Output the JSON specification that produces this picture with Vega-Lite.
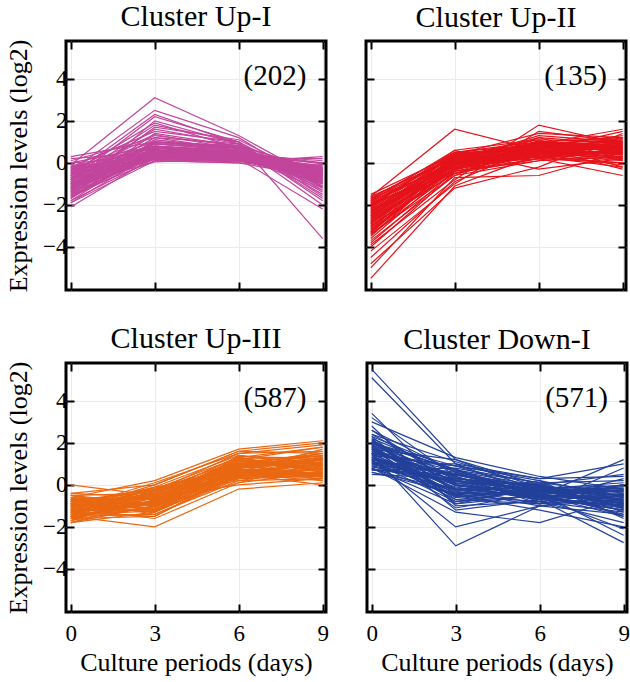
{
  "$schema": "https://vega.github.io/schema/vega-lite/v6.json",
  "background": "white",
  "padding": {"left": 4, "top": 0, "right": 0, "bottom": 2},
  "config": {
    "font": "Liberation Serif, Times New Roman, serif",
    "view": {"stroke": "black", "strokeWidth": 3},
    "axis": {"domain": false, "tickColor": "black", "tickWidth": 2, "tickSize": -8, "labelFont": "Liberation Serif, Times New Roman, serif", "labelFontSize": 23, "labelColor": "black", "titleFont": "Liberation Serif, Times New Roman, serif", "titleFontSize": 26, "titleFontWeight": "normal", "titleColor": "black", "gridColor": "#ebebeb", "gridWidth": 1},
    "axisX": {"labelPadding": 18, "titlePadding": 4},
    "axisY": {"labelPadding": 7, "titlePadding": 11},
    "title": {"font": "Liberation Serif, Times New Roman, serif", "fontSize": 30, "fontWeight": "normal", "color": "black", "baseline": "alphabetic", "offset": 7},
    "line": {"strokeWidth": 1.2}
  },
  "data": {"values": [
    {"c":"Up-I","g":1,"0":-2.1,"3":0.3,"6":0.2,"9":-0.6},
    {"c":"Up-I","g":2,"0":-1.9,"3":0.5,"6":0.4,"9":-0.9},
    {"c":"Up-I","g":3,"0":-1.8,"3":0.2,"6":0.1,"9":-0.3},
    {"c":"Up-I","g":4,"0":-1.7,"3":0.8,"6":0.5,"9":-1.2},
    {"c":"Up-I","g":5,"0":-1.6,"3":0.4,"6":0.3,"9":-0.5},
    {"c":"Up-I","g":6,"0":-1.5,"3":1.0,"6":0.6,"9":-0.8},
    {"c":"Up-I","g":7,"0":-1.5,"3":0.1,"6":0.0,"9":-0.2},
    {"c":"Up-I","g":8,"0":-1.4,"3":0.6,"6":0.4,"9":-1.0},
    {"c":"Up-I","g":9,"0":-1.3,"3":1.4,"6":0.8,"9":-1.5},
    {"c":"Up-I","g":10,"0":-1.3,"3":0.3,"6":0.2,"9":-0.4},
    {"c":"Up-I","g":11,"0":-1.2,"3":0.9,"6":0.7,"9":-0.7},
    {"c":"Up-I","g":12,"0":-1.2,"3":0.2,"6":0.1,"9":-0.1},
    {"c":"Up-I","g":13,"0":-1.1,"3":0.5,"6":0.5,"9":-0.9},
    {"c":"Up-I","g":14,"0":-1.1,"3":1.2,"6":0.9,"9":-1.3},
    {"c":"Up-I","g":15,"0":-1.0,"3":0.7,"6":0.3,"9":-0.6},
    {"c":"Up-I","g":16,"0":-1.0,"3":0.3,"6":0.4,"9":0.1},
    {"c":"Up-I","g":17,"0":-0.9,"3":1.6,"6":0.9,"9":-1.8},
    {"c":"Up-I","g":18,"0":-0.9,"3":0.4,"6":0.2,"9":-0.3},
    {"c":"Up-I","g":19,"0":-0.8,"3":0.8,"6":0.6,"9":-0.8},
    {"c":"Up-I","g":20,"0":-0.8,"3":2.2,"6":1.0,"9":-1.1},
    {"c":"Up-I","g":21,"0":-0.7,"3":0.2,"6":0.3,"9":-0.5},
    {"c":"Up-I","g":22,"0":-0.7,"3":1.1,"6":0.7,"9":-1.0},
    {"c":"Up-I","g":23,"0":-0.6,"3":0.5,"6":0.5,"9":0.0},
    {"c":"Up-I","g":24,"0":-0.6,"3":1.3,"6":0.8,"9":-2.0},
    {"c":"Up-I","g":25,"0":-0.5,"3":0.3,"6":0.1,"9":-0.4},
    {"c":"Up-I","g":26,"0":-0.5,"3":0.9,"6":0.6,"9":-0.7},
    {"c":"Up-I","g":27,"0":-0.4,"3":2.5,"6":1.2,"9":-1.2},
    {"c":"Up-I","g":28,"0":-0.4,"3":0.6,"6":0.3,"9":-0.2},
    {"c":"Up-I","g":29,"0":-0.3,"3":1.0,"6":0.7,"9":-0.9},
    {"c":"Up-I","g":30,"0":-0.3,"3":0.4,"6":0.2,"9":0.2},
    {"c":"Up-I","g":31,"0":-0.2,"3":1.5,"6":1.0,"9":-1.6},
    {"c":"Up-I","g":32,"0":-0.2,"3":0.7,"6":0.4,"9":-0.6},
    {"c":"Up-I","g":33,"0":-0.1,"3":3.1,"6":1.3,"9":-0.9},
    {"c":"Up-I","g":34,"0":-0.8,"3":1.8,"6":1.0,"9":-3.6},
    {"c":"Up-I","g":35,"0":0.0,"3":0.8,"6":0.5,"9":-0.3},
    {"c":"Up-I","g":36,"0":0.1,"3":1.2,"6":0.6,"9":-0.5},
    {"c":"Up-I","g":37,"0":0.2,"3":0.5,"6":0.3,"9":0.0},
    {"c":"Up-I","g":38,"0":0.3,"3":1.0,"6":0.8,"9":-0.4},
    {"c":"Up-I","g":39,"0":-1.6,"3":0.6,"6":0.2,"9":-2.2},
    {"c":"Up-I","g":40,"0":-1.4,"3":2.0,"6":0.9,"9":-1.4},
    {"c":"Up-I","g":41,"0":-1.9,"3":0.1,"6":0.0,"9":-0.7},
    {"c":"Up-I","g":42,"0":-0.9,"3":0.15,"6":0.05,"9":0.3},
    {"c":"Up-I","g":43,"0":-1.2,"3":1.7,"6":1.1,"9":-0.9},
    {"c":"Up-I","g":44,"0":-0.6,"3":2.3,"6":0.9,"9":-1.7},
    {"c":"Up-I","g":45,"0":-1.7,"3":1.1,"6":0.6,"9":-1.1},
    {"c":"Up-I","g":46,"0":-0.3,"3":0.15,"6":0.1,"9":-0.8},
    {"c":"Up-I","g":47,"0":-1.0,"3":0.45,"6":0.35,"9":-1.3},
    {"c":"Up-I","g":48,"0":-0.5,"3":1.9,"6":0.7,"9":-0.5},
    {"c":"Up-I","g":49,"0":-1.4,"3":0.25,"6":0.45,"9":-0.05},
    {"c":"Up-I","g":50,"0":-0.2,"3":0.35,"6":0.25,"9":-1.0},
    {"c":"Up-I","g":51,"0":-1.8,"3":0.75,"6":0.55,"9":-0.35},
    {"c":"Up-I","g":52,"0":-0.7,"3":0.65,"6":0.15,"9":-0.15},
    {"c":"Up-I","g":53,"0":-1.3,"3":0.95,"6":0.85,"9":-0.45},
    {"c":"Up-I","g":54,"0":-0.4,"3":1.35,"6":0.65,"9":-1.15},
    {"c":"Up-I","g":55,"0":0.0,"3":0.25,"6":0.45,"9":-0.65},
    {"c":"Up-I","g":56,"0":-1.1,"3":0.05,"6":0.2,"9":-0.25},
    {"c":"Up-I","g":57,"0":-1.45,"3":0.35,"6":0.3,"9":-0.55},
    {"c":"Up-I","g":58,"0":-1.25,"3":0.55,"6":0.25,"9":-0.35},
    {"c":"Up-I","g":59,"0":-1.05,"3":0.25,"6":0.15,"9":-0.75},
    {"c":"Up-I","g":60,"0":-0.85,"3":0.6,"6":0.45,"9":-0.45},
    {"c":"Up-I","g":61,"0":-0.65,"3":0.4,"6":0.35,"9":-0.85},
    {"c":"Up-I","g":62,"0":-0.45,"3":0.8,"6":0.55,"9":-0.25},
    {"c":"Up-I","g":63,"0":-0.25,"3":0.3,"6":0.2,"9":-0.55},
    {"c":"Up-I","g":64,"0":-1.35,"3":0.7,"6":0.5,"9":-0.65},
    {"c":"Up-I","g":65,"0":-1.15,"3":0.45,"6":0.4,"9":-0.15},
    {"c":"Up-I","g":66,"0":-0.95,"3":0.9,"6":0.6,"9":-0.95},
    {"c":"Up-I","g":67,"0":-0.75,"3":0.35,"6":0.25,"9":-0.3},
    {"c":"Up-I","g":68,"0":-0.55,"3":0.55,"6":0.45,"9":-0.7},
    {"c":"Up-I","g":69,"0":-0.35,"3":0.2,"6":0.3,"9":-0.4},
    {"c":"Up-I","g":70,"0":-1.55,"3":0.5,"6":0.35,"9":-0.8},
    {"c":"Up-I","g":71,"0":-1.65,"3":0.3,"6":0.2,"9":-0.45},
    {"c":"Up-I","g":72,"0":-0.15,"3":0.6,"6":0.5,"9":-0.35},
    {"c":"Up-I","g":73,"0":-1.0,"3":1.0,"6":0.75,"9":-0.6},
    {"c":"Up-I","g":74,"0":-0.6,"3":0.75,"6":0.4,"9":-0.55},
    {"c":"Up-I","g":75,"0":-1.2,"3":0.4,"6":0.6,"9":-0.3},
    {"c":"Up-I","g":76,"0":-0.8,"3":0.3,"6":0.1,"9":-0.6},

    {"c":"Up-II","g":101,"0":-1.5,"3":0.4,"6":0.8,"9":0.9},
    {"c":"Up-II","g":102,"0":-1.6,"3":0.2,"6":0.6,"9":0.5},
    {"c":"Up-II","g":103,"0":-1.7,"3":0.5,"6":1.0,"9":1.2},
    {"c":"Up-II","g":104,"0":-1.8,"3":0.0,"6":0.5,"9":0.3},
    {"c":"Up-II","g":105,"0":-1.9,"3":0.3,"6":0.9,"9":0.7},
    {"c":"Up-II","g":106,"0":-2.0,"3":-0.2,"6":0.4,"9":0.1},
    {"c":"Up-II","g":107,"0":-2.1,"3":0.6,"6":1.1,"9":1.0},
    {"c":"Up-II","g":108,"0":-2.2,"3":0.1,"6":0.7,"9":0.6},
    {"c":"Up-II","g":109,"0":-2.3,"3":-0.3,"6":0.3,"9":-0.2},
    {"c":"Up-II","g":110,"0":-2.4,"3":0.4,"6":0.8,"9":1.3},
    {"c":"Up-II","g":111,"0":-2.5,"3":0.0,"6":0.6,"9":0.4},
    {"c":"Up-II","g":112,"0":-2.6,"3":-0.4,"6":0.2,"9":0.0},
    {"c":"Up-II","g":113,"0":-2.7,"3":0.2,"6":1.0,"9":0.8},
    {"c":"Up-II","g":114,"0":-2.8,"3":-0.1,"6":0.5,"9":0.2},
    {"c":"Up-II","g":115,"0":-2.9,"3":0.3,"6":0.9,"9":1.1},
    {"c":"Up-II","g":116,"0":-3.0,"3":-0.5,"6":0.4,"9":0.5},
    {"c":"Up-II","g":117,"0":-3.1,"3":0.1,"6":0.7,"9":-0.3},
    {"c":"Up-II","g":118,"0":-3.2,"3":-0.2,"6":0.3,"9":0.6},
    {"c":"Up-II","g":119,"0":-3.3,"3":0.2,"6":1.2,"9":0.9},
    {"c":"Up-II","g":120,"0":-3.4,"3":-0.6,"6":0.1,"9":0.3},
    {"c":"Up-II","g":121,"0":-3.5,"3":0.0,"6":0.8,"9":0.7},
    {"c":"Up-II","g":122,"0":-1.6,"3":1.6,"6":0.6,"9":1.5},
    {"c":"Up-II","g":123,"0":-3.9,"3":-0.8,"6":1.8,"9":0.9},
    {"c":"Up-II","g":124,"0":-4.2,"3":-1.0,"6":1.5,"9":1.0},
    {"c":"Up-II","g":125,"0":-4.5,"3":-0.9,"6":0.8,"9":0.6},
    {"c":"Up-II","g":126,"0":-4.8,"3":-1.2,"6":-0.2,"9":1.4},
    {"c":"Up-II","g":127,"0":-5.0,"3":-0.7,"6":-0.6,"9":0.5},
    {"c":"Up-II","g":128,"0":-5.5,"3":-1.1,"6":0.4,"9":0.8},
    {"c":"Up-II","g":129,"0":-3.7,"3":-0.6,"6":0.9,"9":1.6},
    {"c":"Up-II","g":130,"0":-1.8,"3":0.6,"6":-0.3,"9":0.2},
    {"c":"Up-II","g":131,"0":-2.0,"3":0.4,"6":1.4,"9":1.2},
    {"c":"Up-II","g":132,"0":-2.2,"3":-0.1,"6":0.2,"9":-0.6},
    {"c":"Up-II","g":133,"0":-2.4,"3":0.5,"6":0.6,"9":0.3},
    {"c":"Up-II","g":134,"0":-2.6,"3":0.1,"6":1.3,"9":1.0},
    {"c":"Up-II","g":135,"0":-2.8,"3":0.3,"6":0.4,"9":-0.1},
    {"c":"Up-II","g":136,"0":-3.0,"3":-0.3,"6":1.0,"9":0.8},
    {"c":"Up-II","g":137,"0":-3.2,"3":0.4,"6":0.7,"9":0.4},
    {"c":"Up-II","g":138,"0":-3.4,"3":-0.4,"6":0.5,"9":1.2},
    {"c":"Up-II","g":139,"0":-1.7,"3":-0.1,"6":0.3,"9":0.0},
    {"c":"Up-II","g":140,"0":-2.3,"3":0.2,"6":0.9,"9":0.7},
    {"c":"Up-II","g":141,"0":-2.9,"3":0.1,"6":0.5,"9":0.5},
    {"c":"Up-II","g":142,"0":-1.9,"3":-0.5,"6":0.2,"9":0.6},
    {"c":"Up-II","g":143,"0":-2.5,"3":0.3,"6":1.1,"9":0.1},
    {"c":"Up-II","g":144,"0":-3.3,"3":-0.1,"6":0.8,"9":1.0},
    {"c":"Up-II","g":145,"0":-2.1,"3":0.0,"6":0.3,"9":0.9},
    {"c":"Up-II","g":146,"0":-2.7,"3":-0.3,"6":1.2,"9":0.2},
    {"c":"Up-II","g":147,"0":-3.6,"3":-0.2,"6":0.6,"9":0.4},
    {"c":"Up-II","g":148,"0":-2.0,"3":0.5,"6":0.9,"9":-0.2},
    {"c":"Up-II","g":149,"0":-4.0,"3":-0.5,"6":0.6,"9":0.7},
    {"c":"Up-II","g":150,"0":-3.8,"3":-0.4,"6":0.1,"9":1.1},
    {"c":"Up-II","g":151,"0":-1.75,"3":0.25,"6":0.75,"9":0.8},
    {"c":"Up-II","g":152,"0":-1.95,"3":0.1,"6":0.55,"9":0.45},
    {"c":"Up-II","g":153,"0":-2.15,"3":0.35,"6":0.95,"9":0.65},
    {"c":"Up-II","g":154,"0":-2.35,"3":-0.05,"6":0.45,"9":0.95},
    {"c":"Up-II","g":155,"0":-2.55,"3":0.15,"6":0.85,"9":0.35},
    {"c":"Up-II","g":156,"0":-2.75,"3":-0.25,"6":0.65,"9":0.75},
    {"c":"Up-II","g":157,"0":-2.95,"3":0.05,"6":0.35,"9":0.55},
    {"c":"Up-II","g":158,"0":-3.15,"3":-0.35,"6":0.75,"9":0.85},
    {"c":"Up-II","g":159,"0":-3.35,"3":0.15,"6":0.55,"9":0.25},
    {"c":"Up-II","g":160,"0":-2.05,"3":-0.15,"6":0.95,"9":1.05},
    {"c":"Up-II","g":161,"0":-2.45,"3":0.25,"6":0.25,"9":0.65},
    {"c":"Up-II","g":162,"0":-2.85,"3":-0.05,"6":1.05,"9":0.45},
    {"c":"Up-II","g":163,"0":-3.05,"3":0.35,"6":0.65,"9":1.15},
    {"c":"Up-II","g":164,"0":-2.25,"3":-0.3,"6":0.5,"9":0.15},
    {"c":"Up-II","g":165,"0":-2.65,"3":0.45,"6":0.75,"9":0.6},
    {"c":"Up-II","g":166,"0":-1.85,"3":0.0,"6":0.4,"9":0.85},
    {"c":"Up-II","g":167,"0":-3.25,"3":-0.2,"6":0.9,"9":0.5},
    {"c":"Up-II","g":168,"0":-2.5,"3":0.1,"6":0.6,"9":1.0},
    {"c":"Up-II","g":169,"0":-1.65,"3":0.3,"6":0.5,"9":0.4},
    {"c":"Up-II","g":170,"0":-3.45,"3":0.05,"6":0.7,"9":0.7},

    {"c":"Up-III","g":201,"0":-1.8,"3":-1.3,"6":0.4,"9":0.8},
    {"c":"Up-III","g":202,"0":-1.7,"3":-1.0,"6":0.8,"9":1.2},
    {"c":"Up-III","g":203,"0":-1.6,"3":-0.6,"6":1.2,"9":0.6},
    {"c":"Up-III","g":204,"0":-1.5,"3":-1.4,"6":0.2,"9":0.3},
    {"c":"Up-III","g":205,"0":-1.4,"3":-0.3,"6":1.5,"9":1.6},
    {"c":"Up-III","g":206,"0":-1.3,"3":-0.9,"6":0.6,"9":1.0},
    {"c":"Up-III","g":207,"0":-1.2,"3":-1.2,"6":0.9,"9":0.5},
    {"c":"Up-III","g":208,"0":-1.1,"3":-0.5,"6":0.3,"9":1.4},
    {"c":"Up-III","g":209,"0":-1.0,"3":-0.8,"6":1.1,"9":0.9},
    {"c":"Up-III","g":210,"0":-0.9,"3":-1.1,"6":0.5,"9":0.2},
    {"c":"Up-III","g":211,"0":-0.8,"3":-0.2,"6":1.3,"9":1.8},
    {"c":"Up-III","g":212,"0":-0.7,"3":-0.7,"6":0.7,"9":0.7},
    {"c":"Up-III","g":213,"0":-0.6,"3":-1.0,"6":0.1,"9":1.1},
    {"c":"Up-III","g":214,"0":-0.5,"3":-0.4,"6":1.0,"9":0.4},
    {"c":"Up-III","g":215,"0":-0.4,"3":0.0,"6":1.6,"9":2.0},
    {"c":"Up-III","g":216,"0":-1.8,"3":-0.7,"6":0.9,"9":1.3},
    {"c":"Up-III","g":217,"0":-1.6,"3":-1.5,"6":0.5,"9":0.6},
    {"c":"Up-III","g":218,"0":-1.4,"3":-0.1,"6":1.4,"9":0.9},
    {"c":"Up-III","g":219,"0":-1.2,"3":-0.6,"6":0.0,"9":0.3},
    {"c":"Up-III","g":220,"0":-1.0,"3":-1.3,"6":0.8,"9":1.5},
    {"c":"Up-III","g":221,"0":-0.8,"3":-0.9,"6":1.2,"9":1.0},
    {"c":"Up-III","g":222,"0":-0.6,"3":0.2,"6":1.7,"9":2.1},
    {"c":"Up-III","g":223,"0":-1.5,"3":-2.0,"6":-0.2,"9":0.1},
    {"c":"Up-III","g":224,"0":0.0,"3":-0.5,"6":0.4,"9":0.5},
    {"c":"Up-III","g":225,"0":-1.7,"3":-0.3,"6":0.6,"9":1.7},
    {"c":"Up-III","g":226,"0":-1.3,"3":-0.8,"6":1.0,"9":0.2},
    {"c":"Up-III","g":227,"0":-0.9,"3":-0.4,"6":0.2,"9":0.8},
    {"c":"Up-III","g":228,"0":-0.5,"3":-1.2,"6":0.7,"9":1.2},
    {"c":"Up-III","g":229,"0":-1.1,"3":0.1,"6":1.5,"9":1.9},
    {"c":"Up-III","g":230,"0":-0.7,"3":-1.4,"6":0.3,"9":0.4},
    {"c":"Up-III","g":231,"0":-1.5,"3":-0.9,"6":1.1,"9":1.4},
    {"c":"Up-III","g":232,"0":-1.3,"3":-0.2,"6":0.5,"9":0.0},
    {"c":"Up-III","g":233,"0":-0.9,"3":-1.0,"6":1.3,"9":0.7},
    {"c":"Up-III","g":234,"0":-1.7,"3":-0.5,"6":0.8,"9":1.1},
    {"c":"Up-III","g":235,"0":-1.1,"3":-1.6,"6":0.1,"9":0.6},
    {"c":"Up-III","g":236,"0":-0.6,"3":-0.7,"6":0.9,"9":1.6},
    {"c":"Up-III","g":237,"0":-1.4,"3":-1.1,"6":1.4,"9":1.0},
    {"c":"Up-III","g":238,"0":-1.0,"3":-0.1,"6":0.6,"9":0.3},
    {"c":"Up-III","g":239,"0":-1.6,"3":-0.8,"6":0.4,"9":1.3},
    {"c":"Up-III","g":240,"0":-0.8,"3":-0.3,"6":1.0,"9":0.9},
    {"c":"Up-III","g":241,"0":-1.2,"3":0.0,"6":1.6,"9":1.5},
    {"c":"Up-III","g":242,"0":-0.7,"3":-1.2,"6":0.3,"9":0.8},
    {"c":"Up-III","g":243,"0":-1.8,"3":-1.0,"6":0.7,"9":0.4},
    {"c":"Up-III","g":244,"0":-1.0,"3":-0.6,"6":1.2,"9":1.8},
    {"c":"Up-III","g":245,"0":-1.3,"3":-1.5,"6":0.6,"9":0.5},
    {"c":"Up-III","g":246,"0":-0.5,"3":-0.9,"6":0.8,"9":1.2},
    {"c":"Up-III","g":247,"0":-1.5,"3":-0.4,"6":1.3,"9":0.6},
    {"c":"Up-III","g":248,"0":-0.9,"3":-1.3,"6":0.5,"9":1.0},
    {"c":"Up-III","g":249,"0":-1.2,"3":-0.2,"6":0.9,"9":1.4},
    {"c":"Up-III","g":250,"0":-0.4,"3":-0.6,"6":1.1,"9":0.7},
    {"c":"Up-III","g":251,"0":-1.55,"3":-1.05,"6":0.65,"9":0.95},
    {"c":"Up-III","g":252,"0":-1.35,"3":-0.75,"6":0.85,"9":1.15},
    {"c":"Up-III","g":253,"0":-1.15,"3":-0.45,"6":1.05,"9":0.75},
    {"c":"Up-III","g":254,"0":-0.95,"3":-1.15,"6":0.45,"9":0.55},
    {"c":"Up-III","g":255,"0":-0.75,"3":-0.55,"6":1.25,"9":1.35},
    {"c":"Up-III","g":256,"0":-1.45,"3":-0.35,"6":0.75,"9":0.65},
    {"c":"Up-III","g":257,"0":-1.25,"3":-0.95,"6":0.55,"9":1.25},
    {"c":"Up-III","g":258,"0":-1.05,"3":-0.25,"6":1.15,"9":0.85},
    {"c":"Up-III","g":259,"0":-0.85,"3":-0.85,"6":0.35,"9":0.45},
    {"c":"Up-III","g":260,"0":-0.65,"3":-0.65,"6":0.95,"9":1.05},
    {"c":"Up-III","g":261,"0":-1.6,"3":-0.6,"6":1.0,"9":1.5},
    {"c":"Up-III","g":262,"0":-1.4,"3":-1.25,"6":0.4,"9":0.9},
    {"c":"Up-III","g":263,"0":-1.2,"3":-0.85,"6":0.75,"9":0.35},
    {"c":"Up-III","g":264,"0":-1.0,"3":-0.45,"6":1.35,"9":1.25},
    {"c":"Up-III","g":265,"0":-0.8,"3":-1.0,"6":0.6,"9":0.6},
    {"c":"Up-III","g":266,"0":-1.3,"3":-0.5,"6":0.5,"9":1.1},
    {"c":"Up-III","g":267,"0":-1.1,"3":-1.2,"6":1.2,"9":0.8},
    {"c":"Up-III","g":268,"0":-0.9,"3":-0.15,"6":0.85,"9":1.3},
    {"c":"Up-III","g":269,"0":-0.7,"3":-0.95,"6":0.7,"9":0.5},
    {"c":"Up-III","g":270,"0":-1.5,"3":-0.75,"6":0.95,"9":1.2},

    {"c":"Down-I","g":301,"0":0.5,"3":0.3,"6":-0.3,"9":-0.5},
    {"c":"Down-I","g":302,"0":0.6,"3":-0.2,"6":-0.6,"9":-1.0},
    {"c":"Down-I","g":303,"0":0.7,"3":0.8,"6":0.1,"9":0.2},
    {"c":"Down-I","g":304,"0":0.8,"3":-0.5,"6":-0.8,"9":-1.3},
    {"c":"Down-I","g":305,"0":0.9,"3":0.2,"6":-0.2,"9":-0.3},
    {"c":"Down-I","g":306,"0":1.0,"3":1.0,"6":0.3,"9":0.4},
    {"c":"Down-I","g":307,"0":1.1,"3":-0.8,"6":-0.5,"9":-0.8},
    {"c":"Down-I","g":308,"0":1.2,"3":0.5,"6":-0.1,"9":-1.1},
    {"c":"Down-I","g":309,"0":1.3,"3":-0.1,"6":-0.7,"9":0.0},
    {"c":"Down-I","g":310,"0":1.4,"3":0.9,"6":0.2,"9":-0.6},
    {"c":"Down-I","g":311,"0":1.5,"3":-0.4,"6":-0.4,"9":-1.4},
    {"c":"Down-I","g":312,"0":1.6,"3":0.4,"6":-0.9,"9":-0.2},
    {"c":"Down-I","g":313,"0":1.7,"3":1.2,"6":0.0,"9":0.5},
    {"c":"Down-I","g":314,"0":1.8,"3":-0.6,"6":-0.3,"9":-0.9},
    {"c":"Down-I","g":315,"0":1.9,"3":0.1,"6":-0.6,"9":-1.2},
    {"c":"Down-I","g":316,"0":2.0,"3":0.7,"6":0.1,"9":-0.4},
    {"c":"Down-I","g":317,"0":2.1,"3":-0.3,"6":-1.0,"9":-0.7},
    {"c":"Down-I","g":318,"0":2.2,"3":0.6,"6":-0.2,"9":0.1},
    {"c":"Down-I","g":319,"0":2.3,"3":-0.9,"6":-0.5,"9":-1.5},
    {"c":"Down-I","g":320,"0":2.4,"3":0.3,"6":-0.1,"9":-0.8},
    {"c":"Down-I","g":321,"0":5.5,"3":1.2,"6":-0.3,"9":-0.9},
    {"c":"Down-I","g":322,"0":5.1,"3":1.0,"6":-0.5,"9":-1.2},
    {"c":"Down-I","g":323,"0":3.4,"3":-0.5,"6":-1.2,"9":-2.0},
    {"c":"Down-I","g":324,"0":3.0,"3":1.3,"6":0.4,"9":-0.2},
    {"c":"Down-I","g":325,"0":2.8,"3":-1.0,"6":-0.8,"9":-1.8},
    {"c":"Down-I","g":326,"0":2.6,"3":0.0,"6":-0.5,"9":1.2},
    {"c":"Down-I","g":327,"0":1.5,"3":-2.9,"6":-1.0,"9":-0.5},
    {"c":"Down-I","g":328,"0":1.2,"3":-2.0,"6":-1.0,"9":-1.4},
    {"c":"Down-I","g":329,"0":0.8,"3":-1.3,"6":-1.8,"9":-0.6},
    {"c":"Down-I","g":330,"0":2.2,"3":-1.2,"6":-0.7,"9":-2.75},
    {"c":"Down-I","g":331,"0":1.8,"3":-1.1,"6":-0.4,"9":-2.4},
    {"c":"Down-I","g":332,"0":2.0,"3":0.9,"6":0.3,"9":1.0},
    {"c":"Down-I","g":333,"0":1.3,"3":-0.7,"6":-0.9,"9":0.8},
    {"c":"Down-I","g":334,"0":0.6,"3":-0.4,"6":0.2,"9":-1.6},
    {"c":"Down-I","g":335,"0":1.1,"3":0.6,"6":-0.6,"9":-2.1},
    {"c":"Down-I","g":336,"0":2.4,"3":1.1,"6":-0.1,"9":-0.5},
    {"c":"Down-I","g":337,"0":0.9,"3":-0.2,"6":0.0,"9":-1.1},
    {"c":"Down-I","g":338,"0":1.6,"3":0.2,"6":-0.7,"9":0.3},
    {"c":"Down-I","g":339,"0":2.1,"3":-0.7,"6":-0.3,"9":-0.1},
    {"c":"Down-I","g":340,"0":0.7,"3":0.5,"6":-0.5,"9":-0.7},
    {"c":"Down-I","g":341,"0":1.4,"3":-0.5,"6":0.1,"9":-1.3},
    {"c":"Down-I","g":342,"0":1.9,"3":0.4,"6":-0.8,"9":-0.4},
    {"c":"Down-I","g":343,"0":1.7,"3":-0.8,"6":-0.2,"9":-1.0},
    {"c":"Down-I","g":344,"0":1.2,"3":0.0,"6":-0.4,"9":0.0},
    {"c":"Down-I","g":345,"0":2.3,"3":0.7,"6":-0.6,"9":-1.2},
    {"c":"Down-I","g":346,"0":0.8,"3":-0.9,"6":-0.1,"9":-0.2},
    {"c":"Down-I","g":347,"0":1.5,"3":0.9,"6":-0.3,"9":-0.9},
    {"c":"Down-I","g":348,"0":2.0,"3":-0.2,"6":-0.9,"9":-0.6},
    {"c":"Down-I","g":349,"0":1.0,"3":0.3,"6":0.0,"9":-1.5},
    {"c":"Down-I","g":350,"0":2.6,"3":0.6,"6":-0.2,"9":-0.3},
    {"c":"Down-I","g":351,"0":3.2,"3":0.4,"6":-0.6,"9":-1.1},
    {"c":"Down-I","g":352,"0":0.85,"3":0.15,"6":-0.25,"9":-0.45},
    {"c":"Down-I","g":353,"0":1.05,"3":-0.35,"6":-0.45,"9":-0.85},
    {"c":"Down-I","g":354,"0":1.25,"3":0.45,"6":-0.15,"9":-0.25},
    {"c":"Down-I","g":355,"0":1.45,"3":-0.15,"6":-0.55,"9":-1.05},
    {"c":"Down-I","g":356,"0":1.65,"3":0.65,"6":-0.05,"9":-0.55},
    {"c":"Down-I","g":357,"0":1.85,"3":-0.45,"6":-0.35,"9":-0.15},
    {"c":"Down-I","g":358,"0":2.05,"3":0.25,"6":-0.65,"9":-0.95},
    {"c":"Down-I","g":359,"0":0.95,"3":0.55,"6":-0.45,"9":-0.65},
    {"c":"Down-I","g":360,"0":1.15,"3":-0.55,"6":-0.25,"9":-0.35},
    {"c":"Down-I","g":361,"0":1.35,"3":0.05,"6":0.05,"9":-1.15},
    {"c":"Down-I","g":362,"0":1.55,"3":0.35,"6":-0.35,"9":-0.75},
    {"c":"Down-I","g":363,"0":1.75,"3":-0.25,"6":-0.15,"9":-0.05},
    {"c":"Down-I","g":364,"0":1.95,"3":0.75,"6":-0.55,"9":-0.45},
    {"c":"Down-I","g":365,"0":2.15,"3":-0.05,"6":-0.45,"9":-0.85},
    {"c":"Down-I","g":366,"0":1.1,"3":0.1,"6":-0.6,"9":-0.55},
    {"c":"Down-I","g":367,"0":1.3,"3":-0.3,"6":-0.05,"9":-0.7},
    {"c":"Down-I","g":368,"0":1.5,"3":0.5,"6":-0.4,"9":-0.3},
    {"c":"Down-I","g":369,"0":1.7,"3":0.0,"6":-0.7,"9":-1.0},
    {"c":"Down-I","g":370,"0":1.9,"3":-0.6,"6":-0.2,"9":-0.6},
    {"c":"Down-I","g":371,"0":0.75,"3":0.2,"6":-0.3,"9":-0.9}
  ]},
  "spacing": 28,
  "vconcat": [
    {
      "spacing": 34,
      "hconcat": [
        {
          "width": 260, "height": 249,
          "title": "Cluster Up-I",
          "layer": [
            {
              "transform": [{"filter": "datum.c === 'Up-I'"}, {"fold": ["0", "3", "6", "9"], "as": ["day", "v"]}],
              "mark": {"type": "line", "color": "#c2459c"},
              "encoding": {
                "x": {"field": "day", "type": "quantitative", "scale": {"domain": [-0.17, 9.12], "nice": false, "zero": false}, "axis": {"orient": "bottom", "values": [0, 3, 6, 9], "labels": false, "title": null, "grid": true}},
                "y": {"field": "v", "type": "quantitative", "scale": {"domain": [-6.05, 5.8], "nice": false, "zero": false}, "axis": {"orient": "left", "values": [-4, -2, 0, 2, 4], "title": "Expression levels (log2)", "grid": true}},
                "detail": {"field": "g"}
              }
            },
            {
              "data": {"values": [{"n": "(202)"}]},
              "mark": {"type": "text", "align": "right", "baseline": "middle", "fontSize": 29, "color": "black"},
              "encoding": {
                "x": {"datum": 8.42, "type": "quantitative", "scale": {"domain": [-0.17, 9.12], "nice": false, "zero": false}, "axis": {"orient": "top", "values": [0, 3, 6, 9], "labels": false, "title": null, "grid": false}},
                "y": {"datum": 4.15, "type": "quantitative", "scale": {"domain": [-6.05, 5.8], "nice": false, "zero": false}, "axis": {"orient": "right", "values": [-4, -2, 0, 2, 4], "labels": false, "title": null, "grid": false}},
                "text": {"field": "n"}
              }
            }
          ],
          "resolve": {"axis": {"x": "independent", "y": "independent"}}
        },
        {
          "width": 260, "height": 249,
          "title": "Cluster Up-II",
          "layer": [
            {
              "transform": [{"filter": "datum.c === 'Up-II'"}, {"fold": ["0", "3", "6", "9"], "as": ["day", "v"]}],
              "mark": {"type": "line", "color": "#e5131b"},
              "encoding": {
                "x": {"field": "day", "type": "quantitative", "scale": {"domain": [-0.17, 9.12], "nice": false, "zero": false}, "axis": {"orient": "bottom", "values": [0, 3, 6, 9], "labels": false, "title": null, "grid": true}},
                "y": {"field": "v", "type": "quantitative", "scale": {"domain": [-6.05, 5.8], "nice": false, "zero": false}, "axis": {"orient": "left", "values": [-4, -2, 0, 2, 4], "labels": false, "title": null, "grid": true}},
                "detail": {"field": "g"}
              }
            },
            {
              "data": {"values": [{"n": "(135)"}]},
              "mark": {"type": "text", "align": "right", "baseline": "middle", "fontSize": 29, "color": "black"},
              "encoding": {
                "x": {"datum": 8.44, "type": "quantitative", "scale": {"domain": [-0.17, 9.12], "nice": false, "zero": false}, "axis": {"orient": "top", "values": [0, 3, 6, 9], "labels": false, "title": null, "grid": false}},
                "y": {"datum": 4.15, "type": "quantitative", "scale": {"domain": [-6.05, 5.8], "nice": false, "zero": false}, "axis": {"orient": "right", "values": [-4, -2, 0, 2, 4], "labels": false, "title": null, "grid": false}},
                "text": {"field": "n"}
              }
            }
          ],
          "resolve": {"axis": {"x": "independent", "y": "independent"}}
        }
      ]
    },
    {
      "spacing": 34,
      "hconcat": [
        {
          "width": 260, "height": 249,
          "title": "Cluster Up-III",
          "layer": [
            {
              "transform": [{"filter": "datum.c === 'Up-III'"}, {"fold": ["0", "3", "6", "9"], "as": ["day", "v"]}],
              "mark": {"type": "line", "color": "#ea6812"},
              "encoding": {
                "x": {"field": "day", "type": "quantitative", "scale": {"domain": [-0.17, 9.12], "nice": false, "zero": false}, "axis": {"orient": "bottom", "values": [0, 3, 6, 9], "title": "Culture periods (days)", "grid": true}},
                "y": {"field": "v", "type": "quantitative", "scale": {"domain": [-6.05, 5.8], "nice": false, "zero": false}, "axis": {"orient": "left", "values": [-4, -2, 0, 2, 4], "title": "Expression levels (log2)", "grid": true}},
                "detail": {"field": "g"}
              }
            },
            {
              "data": {"values": [{"n": "(587)"}]},
              "mark": {"type": "text", "align": "right", "baseline": "middle", "fontSize": 29, "color": "black"},
              "encoding": {
                "x": {"datum": 8.42, "type": "quantitative", "scale": {"domain": [-0.17, 9.12], "nice": false, "zero": false}, "axis": {"orient": "top", "values": [0, 3, 6, 9], "labels": false, "title": null, "grid": false}},
                "y": {"datum": 4.15, "type": "quantitative", "scale": {"domain": [-6.05, 5.8], "nice": false, "zero": false}, "axis": {"orient": "right", "values": [-4, -2, 0, 2, 4], "labels": false, "title": null, "grid": false}},
                "text": {"field": "n"}
              }
            }
          ],
          "resolve": {"axis": {"x": "independent", "y": "independent"}}
        },
        {
          "width": 260, "height": 249,
          "title": "Cluster Down-I",
          "layer": [
            {
              "transform": [{"filter": "datum.c === 'Down-I'"}, {"fold": ["0", "3", "6", "9"], "as": ["day", "v"]}],
              "mark": {"type": "line", "color": "#23419b"},
              "encoding": {
                "x": {"field": "day", "type": "quantitative", "scale": {"domain": [-0.17, 9.12], "nice": false, "zero": false}, "axis": {"orient": "bottom", "values": [0, 3, 6, 9], "title": "Culture periods (days)", "grid": true}},
                "y": {"field": "v", "type": "quantitative", "scale": {"domain": [-6.05, 5.8], "nice": false, "zero": false}, "axis": {"orient": "left", "values": [-4, -2, 0, 2, 4], "labels": false, "title": null, "grid": true}},
                "detail": {"field": "g"}
              }
            },
            {
              "data": {"values": [{"n": "(571)"}]},
              "mark": {"type": "text", "align": "right", "baseline": "middle", "fontSize": 29, "color": "black"},
              "encoding": {
                "x": {"datum": 8.44, "type": "quantitative", "scale": {"domain": [-0.17, 9.12], "nice": false, "zero": false}, "axis": {"orient": "top", "values": [0, 3, 6, 9], "labels": false, "title": null, "grid": false}},
                "y": {"datum": 4.15, "type": "quantitative", "scale": {"domain": [-6.05, 5.8], "nice": false, "zero": false}, "axis": {"orient": "right", "values": [-4, -2, 0, 2, 4], "labels": false, "title": null, "grid": false}},
                "text": {"field": "n"}
              }
            }
          ],
          "resolve": {"axis": {"x": "independent", "y": "independent"}}
        }
      ]
    }
  ]
}
